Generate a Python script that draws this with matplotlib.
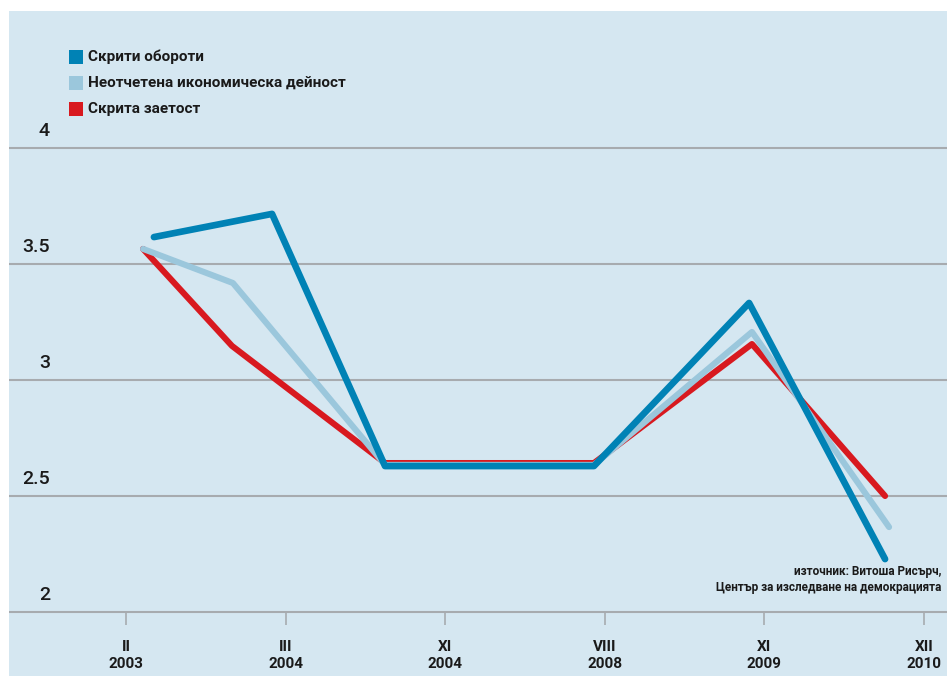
import matplotlib
matplotlib.use('Agg')
import matplotlib.pyplot as plt
import numpy as np

plt.rcParams['font.family'] = ['Roboto', 'DejaVu Sans']

# =============================================================================
# Data (x is position in tick units, 0 = II 2003 ... 5 = XII 2010)
# =============================================================================

tick_labels = ['II\n2003', 'III\n2004', 'XI\n2004', 'VIII\n2008', 'XI\n2009', 'XII\n2010']

names = ['Скрити обороти', 'Неотчетена икономическа дейност', 'Скрита заетост']
colors = ['#0082b5', '#9bc7dc', '#d8191f']

blue_x = [0.175, 0.915, 1.623, 2.932, 3.904, 4.756]
blue_y = [3.616, 3.716, 2.629, 2.629, 3.332, 2.228]

light_x = [0.107, 0.670, 1.623, 2.932, 3.922, 4.781]
light_y = [3.565, 3.418, 2.634, 2.634, 3.207, 2.366]

red_x = [0.107, 0.664, 1.623, 2.932, 3.922, 4.756]
red_y = [3.565, 3.147, 2.642, 2.642, 3.155, 2.500]

y_ticks = [2, 2.5, 3, 3.5, 4]
y_tick_labels = ['2', '2.5', '3', '3.5', '4']

source = 'източник: Витоша Рисърч,\nЦентър за изследване на демокрацията'

# =============================================================================
# Figure
# =============================================================================

fig = plt.figure(figsize=(9.47, 6.82), dpi=100)
ax = fig.add_axes([9 / 947, 6 / 682, 938 / 947, 665 / 682])
ax.set_facecolor('#d5e7f1')
ax.set_xlim(-0.733, 5.144)
ax.set_ylim(1.7241, 4.5905)
for s in ax.spines.values():
    s.set_visible(False)
ax.set_xticks([])
ax.set_yticks([])

for yv, lab in zip(y_ticks, y_tick_labels):
    ax.axhline(yv, color='#a7abaf', lw=1.5, zorder=1)
    ax.text(-0.476, yv + 0.035, lab, ha='right', va='bottom', fontsize=14,
            fontweight='medium', color='#1a1a1a')

ticks = np.arange(len(tick_labels))
ax.vlines(ticks, 1.944, 2, color='#a7abaf', lw=1.2, zorder=1)
for t, lab in zip(ticks, tick_labels):
    ax.text(t, 1.88, lab, ha='center', va='top', fontsize=11, fontweight='bold',
            color='#1a1a1a', linespacing=1.3)

series = [(red_x, red_y, colors[2], 4.4),
          (light_x, light_y, colors[1], 4.4),
          (blue_x, blue_y, colors[0], 4.8)]
for i, (xs, ys, c, w) in enumerate(series):
    ax.plot(xs, ys, color=c, lw=w, solid_capstyle='round', solid_joinstyle='round',
            zorder=3 + i)

# legend
for i, (n, c) in enumerate(zip(names, colors)):
    yy = 1 - (46 + i * 26) / 665
    ax.scatter([67 / 938], [yy], s=110, marker='s', color=c, transform=ax.transAxes,
               lw=0, clip_on=False)
    ax.text(79 / 938, yy, n, transform=ax.transAxes, ha='left', va='center',
            fontsize=11, fontweight='bold', color='#1a1a1a')

ax.text(932 / 938, 1 - 554 / 665, source, transform=ax.transAxes, ha='right', va='top',
        fontsize=8.5, fontweight='bold', color='#1a1a1a', linespacing=1.3)

fig.savefig('out.png', dpi=100)
